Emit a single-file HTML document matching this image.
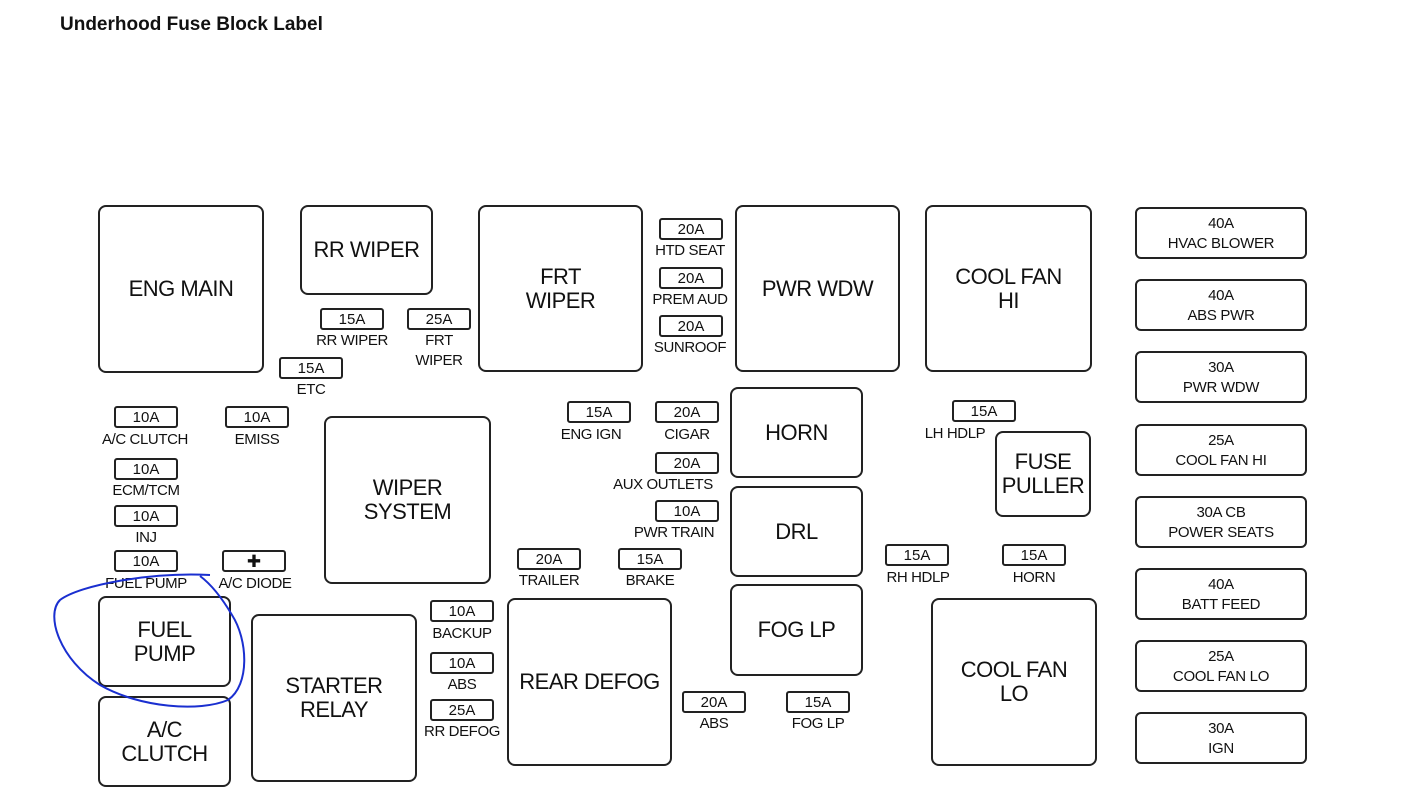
<!DOCTYPE html>
<html><head><meta charset="utf-8"><style>
body{margin:0;width:1418px;height:790px;background:#fff;position:relative;overflow:hidden;font-family:"Liberation Sans",Arial,sans-serif;color:#111}
.r{position:absolute;border:2px solid #222;border-radius:8px;box-sizing:border-box;display:flex;align-items:center;justify-content:center;text-align:center;font-size:22px;line-height:24px;letter-spacing:-0.5px}
.f{position:absolute;width:64px;height:22px;border:2px solid #222;border-radius:3px;box-sizing:border-box;text-align:center;font-size:15px;line-height:19px}
.l{position:absolute;width:140px;margin-left:-70px;text-align:center;font-size:15px;line-height:20px;letter-spacing:-0.4px}
.b{position:absolute;left:1135px;width:172px;height:52px;border:2px solid #222;border-radius:6px;box-sizing:border-box;text-align:center;font-size:15px;line-height:20px;padding-top:5px;letter-spacing:-0.3px}
</style></head><body>
<div style="position:absolute;left:60px;top:14px;font-weight:bold;font-size:19px">Underhood Fuse Block Label</div>

<div class="r" style="left:98px;top:205px;width:166px;height:168px">ENG MAIN</div>
<div class="r" style="left:300px;top:205px;width:133px;height:90px">RR WIPER</div>
<div class="r" style="left:478px;top:205px;width:165px;height:167px">FRT<br>WIPER</div>
<div class="r" style="left:735px;top:205px;width:165px;height:167px">PWR WDW</div>
<div class="r" style="left:925px;top:205px;width:167px;height:167px">COOL FAN<br>HI</div>
<div class="r" style="left:324px;top:416px;width:167px;height:168px">WIPER<br>SYSTEM</div>
<div class="r" style="left:730px;top:387px;width:133px;height:91px">HORN</div>
<div class="r" style="left:730px;top:486px;width:133px;height:91px">DRL</div>
<div class="r" style="left:730px;top:584px;width:133px;height:92px">FOG LP</div>
<div class="r" style="left:995px;top:431px;width:96px;height:86px">FUSE<br>PULLER</div>
<div class="r" style="left:98px;top:596px;width:133px;height:91px">FUEL<br>PUMP</div>
<div class="r" style="left:98px;top:696px;width:133px;height:91px">A/C<br>CLUTCH</div>
<div class="r" style="left:251px;top:614px;width:166px;height:168px">STARTER<br>RELAY</div>
<div class="r" style="left:507px;top:598px;width:165px;height:168px">REAR DEFOG</div>
<div class="r" style="left:931px;top:598px;width:166px;height:168px">COOL FAN<br>LO</div>

<div class="b" style="top:207px">40A<br>HVAC BLOWER</div>
<div class="b" style="top:279px">40A<br>ABS PWR</div>
<div class="b" style="top:351px">30A<br>PWR WDW</div>
<div class="b" style="top:424px">25A<br>COOL FAN HI</div>
<div class="b" style="top:496px">30A CB<br>POWER SEATS</div>
<div class="b" style="top:568px">40A<br>BATT FEED</div>
<div class="b" style="top:640px">25A<br>COOL FAN LO</div>
<div class="b" style="top:712px">30A<br>IGN</div>

<div class="f" style="left:320px;top:308px">15A</div><div class="l" style="left:352px;top:331px">RR WIPER</div>
<div class="f" style="left:407px;top:308px">25A</div><div class="l" style="left:439px;top:331px">FRT<br>WIPER</div>
<div class="f" style="left:279px;top:357px">15A</div><div class="l" style="left:311px;top:380px">ETC</div>
<div class="f" style="left:659px;top:218px">20A</div><div class="l" style="left:690px;top:241px">HTD SEAT</div>
<div class="f" style="left:659px;top:267px">20A</div><div class="l" style="left:690px;top:290px">PREM AUD</div>
<div class="f" style="left:659px;top:315px">20A</div><div class="l" style="left:690px;top:338px">SUNROOF</div>
<div class="f" style="left:114px;top:406px">10A</div><div class="l" style="left:145px;top:430px">A/C CLUTCH</div>
<div class="f" style="left:225px;top:406px">10A</div><div class="l" style="left:257px;top:430px">EMISS</div>
<div class="f" style="left:114px;top:458px">10A</div><div class="l" style="left:146px;top:481px">ECM/TCM</div>
<div class="f" style="left:114px;top:505px">10A</div><div class="l" style="left:146px;top:528px">INJ</div>
<div class="f" style="left:114px;top:550px">10A</div><div class="l" style="left:146px;top:574px">FUEL PUMP</div>
<div class="f" style="left:222px;top:550px;font-size:17px">&#10010;</div><div class="l" style="left:255px;top:574px">A/C DIODE</div>
<div class="f" style="left:567px;top:401px">15A</div><div class="l" style="left:591px;top:425px">ENG IGN</div>
<div class="f" style="left:655px;top:401px">20A</div><div class="l" style="left:687px;top:425px">CIGAR</div>
<div class="f" style="left:655px;top:452px">20A</div><div class="l" style="left:663px;top:475px">AUX OUTLETS</div>
<div class="f" style="left:655px;top:500px">10A</div><div class="l" style="left:674px;top:523px">PWR TRAIN</div>
<div class="f" style="left:517px;top:548px">20A</div><div class="l" style="left:549px;top:571px">TRAILER</div>
<div class="f" style="left:618px;top:548px">15A</div><div class="l" style="left:650px;top:571px">BRAKE</div>
<div class="f" style="left:952px;top:400px">15A</div><div class="l" style="left:955px;top:424px">LH HDLP</div>
<div class="f" style="left:885px;top:544px">15A</div><div class="l" style="left:918px;top:568px">RH HDLP</div>
<div class="f" style="left:1002px;top:544px">15A</div><div class="l" style="left:1034px;top:568px">HORN</div>
<div class="f" style="left:430px;top:600px">10A</div><div class="l" style="left:462px;top:624px">BACKUP</div>
<div class="f" style="left:430px;top:652px">10A</div><div class="l" style="left:462px;top:675px">ABS</div>
<div class="f" style="left:430px;top:699px">25A</div><div class="l" style="left:462px;top:722px">RR DEFOG</div>
<div class="f" style="left:682px;top:691px">20A</div><div class="l" style="left:714px;top:714px">ABS</div>
<div class="f" style="left:786px;top:691px">15A</div><div class="l" style="left:818px;top:714px">FOG LP</div>

<svg style="position:absolute;left:0;top:0" width="1418" height="790">
<path d="M210 575 C150 572 80 585 60 600 C45 615 60 660 100 685 C140 708 200 712 228 700 C250 685 248 640 232 615 C222 598 212 585 200 576" fill="none" stroke="#1a2fd0" stroke-width="2"/>
</svg>
</body></html>
